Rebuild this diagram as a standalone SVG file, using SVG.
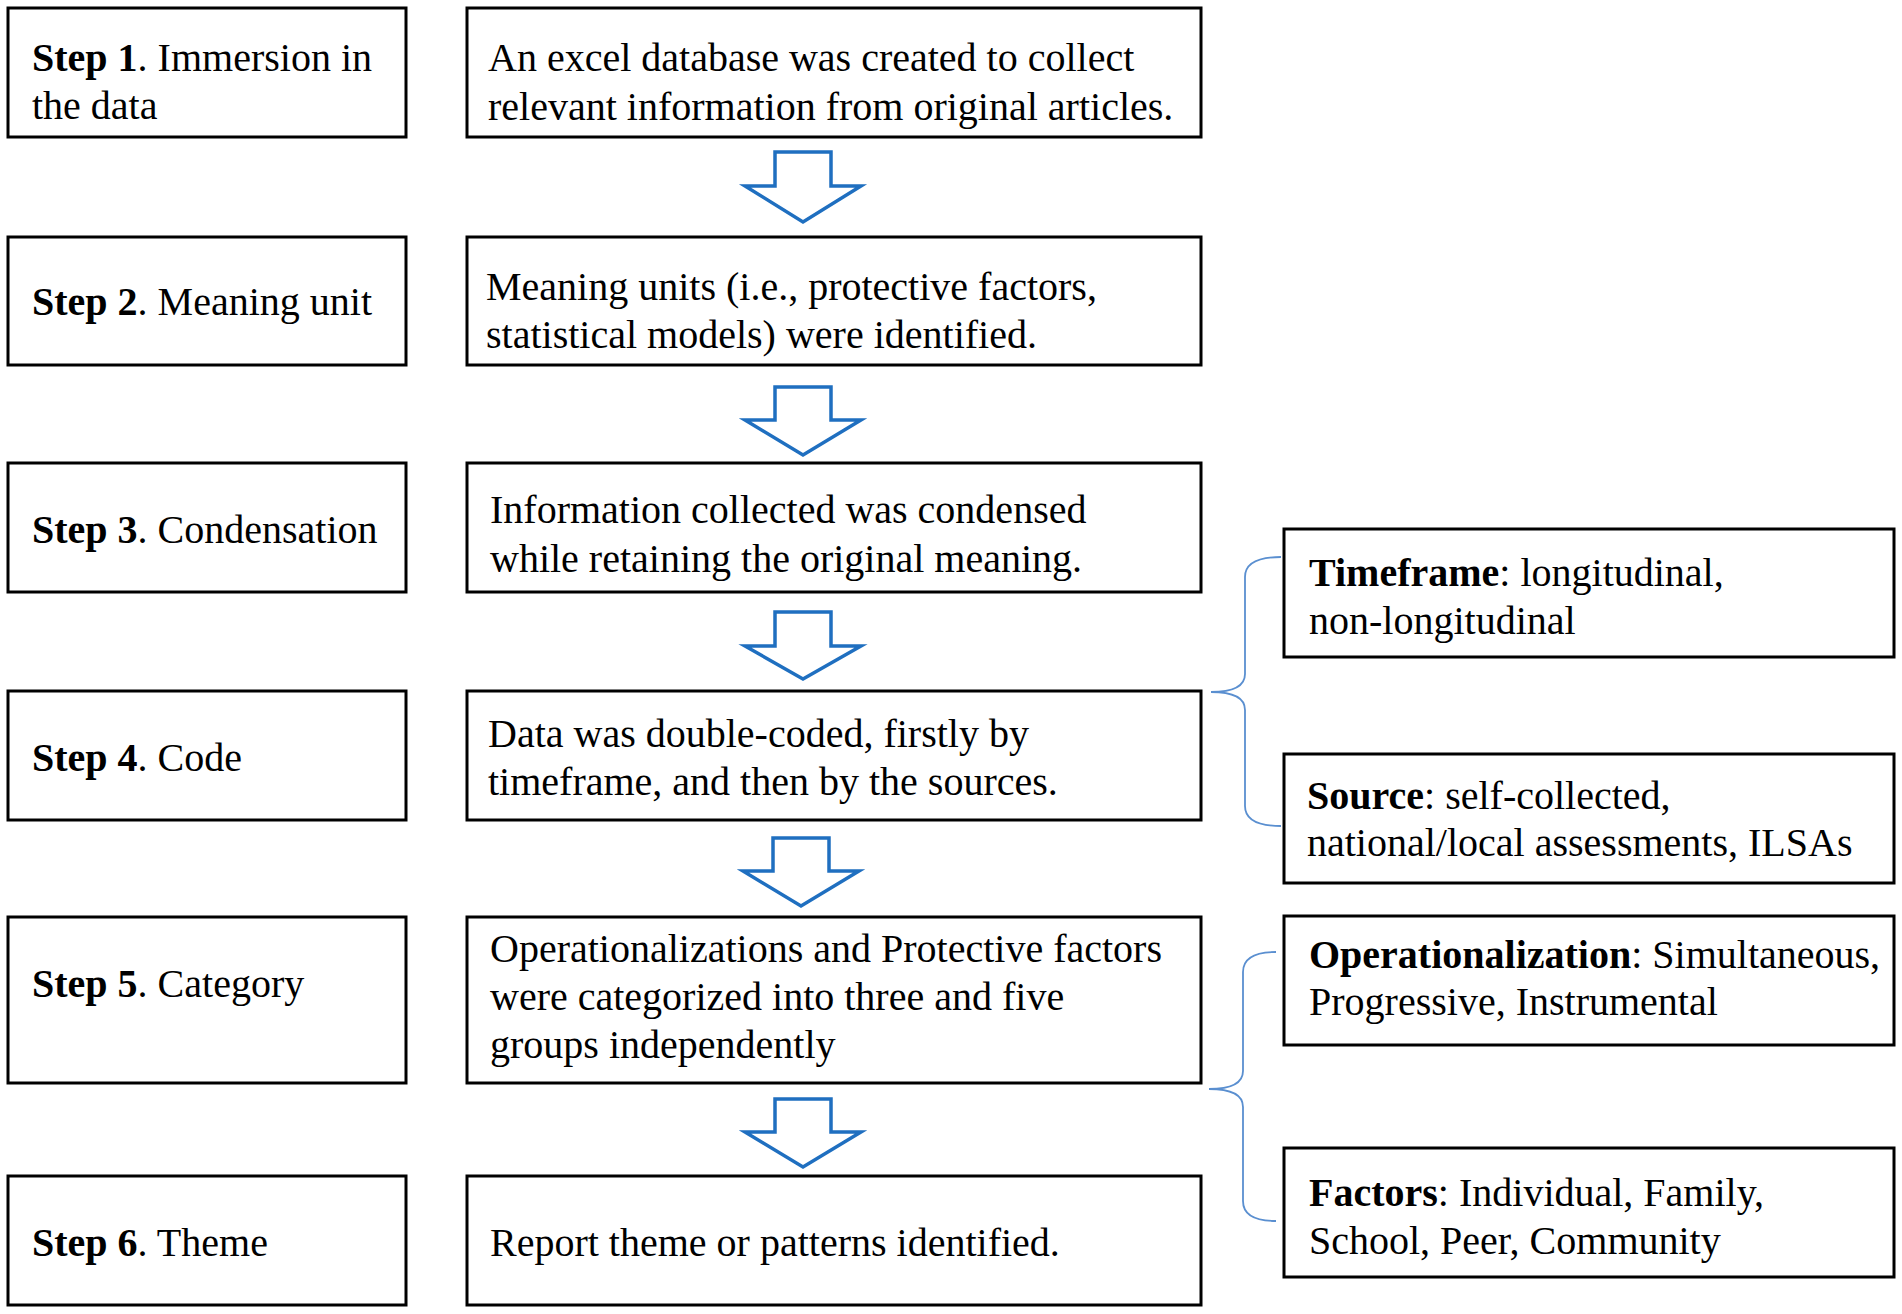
<svg xmlns="http://www.w3.org/2000/svg" width="1902" height="1314" viewBox="0 0 1902 1314">
<style>
.box{fill:#fff;stroke:#000;stroke-width:3}
.t{font-family:"Liberation Serif","Times New Roman",serif;font-size:40px;fill:#000}
.b{font-weight:bold}
.arr{fill:#fff;stroke:#1f6fc0;stroke-width:3.5;stroke-linejoin:miter}
.brace{fill:none;stroke:#5a8fd0;stroke-width:1.8}
</style>
<rect width="1902" height="1314" fill="#fff"/>
<g id="connectors">
<path class="arr" d="M775,152 H831 V186 H861 L803,222 L745,186 H775 Z"/>
<path class="arr" d="M775,387 H831 V420 H861 L803,455 L745,420 H775 Z"/>
<path class="arr" d="M775,612 H831 V646 H861 L803,679 L745,646 H775 Z"/>
<path class="arr" d="M773,838 H829 V871 H859 L801,906 L743,871 H773 Z"/>
<path class="arr" d="M775,1099 H831 V1132 H861 L803,1167 L745,1132 H775 Z"/>
<path class="brace" d="M1281,557 Q1245,557 1245,577 V674 Q1245,692 1211,692 Q1245,692 1245,710 V806 Q1245,826 1281,826"/>
<path class="brace" d="M1276,952 Q1243,952 1243,972 V1071 Q1243,1089 1209,1089 Q1243,1089 1243,1107 V1201 Q1243,1221 1276,1221"/>
</g>
<g id="step1"><rect class="box" x="8" y="8" width="398" height="129"/><text class="t" x="32" y="71"><tspan class="b">Step 1</tspan>. Immersion in</text><text class="t" x="32" y="119">the data</text></g>
<g id="desc1"><rect class="box" x="467" y="8" width="734" height="129"/><text class="t" x="488" y="71">An excel database was created to collect</text><text class="t" x="488" y="120">relevant information from original articles.</text></g>
<g id="step2"><rect class="box" x="8" y="237" width="398" height="128"/><text class="t" x="32" y="315"><tspan class="b">Step 2</tspan>. Meaning unit</text></g>
<g id="desc2"><rect class="box" x="467" y="237" width="734" height="128"/><text class="t" x="486" y="300">Meaning units (i.e., protective factors,</text><text class="t" x="486" y="348">statistical models) were identified.</text></g>
<g id="step3"><rect class="box" x="8" y="463" width="398" height="129"/><text class="t" x="32" y="543"><tspan class="b">Step 3</tspan>. Condensation</text></g>
<g id="desc3"><rect class="box" x="467" y="463" width="734" height="129"/><text class="t" x="490" y="523">Information collected was condensed</text><text class="t" x="490" y="572">while retaining the original meaning.</text></g>
<g id="step4"><rect class="box" x="8" y="691" width="398" height="129"/><text class="t" x="32" y="771"><tspan class="b">Step 4</tspan>. Code</text></g>
<g id="desc4"><rect class="box" x="467" y="691" width="734" height="129"/><text class="t" x="488" y="747">Data was double-coded, firstly by</text><text class="t" x="488" y="795">timeframe, and then by the sources.</text></g>
<g id="step5"><rect class="box" x="8" y="917" width="398" height="166"/><text class="t" x="32" y="997"><tspan class="b">Step 5</tspan>. Category</text></g>
<g id="desc5"><rect class="box" x="467" y="917" width="734" height="166"/><text class="t" x="490" y="962">Operationalizations and Protective factors</text><text class="t" x="490" y="1010">were categorized into three and five</text><text class="t" x="490" y="1058">groups independently</text></g>
<g id="step6"><rect class="box" x="8" y="1176" width="398" height="129"/><text class="t" x="32" y="1256"><tspan class="b">Step 6</tspan>. Theme</text></g>
<g id="desc6"><rect class="box" x="467" y="1176" width="734" height="129"/><text class="t" x="490" y="1256">Report theme or patterns identified.</text></g>
<g id="timeframe"><rect class="box" x="1284" y="529" width="610" height="128"/><text class="t" x="1309" y="586"><tspan class="b">Timeframe</tspan>: longitudinal,</text><text class="t" x="1309" y="634">non-longitudinal</text></g>
<g id="source"><rect class="box" x="1284" y="754" width="610" height="129"/><text class="t" x="1307" y="809"><tspan class="b">Source</tspan>: self-collected,</text><text class="t" x="1307" y="856">national/local assessments, ILSAs</text></g>
<g id="operationalization"><rect class="box" x="1284" y="916" width="610" height="129"/><text class="t" x="1309" y="968"><tspan class="b">Operationalization</tspan>: Simultaneous,</text><text class="t" x="1309" y="1015">Progressive, Instrumental</text></g>
<g id="factors"><rect class="box" x="1284" y="1148" width="610" height="129"/><text class="t" x="1309" y="1206"><tspan class="b">Factors</tspan>: Individual, Family,</text><text class="t" x="1309" y="1254">School, Peer, Community</text></g>
</svg>
